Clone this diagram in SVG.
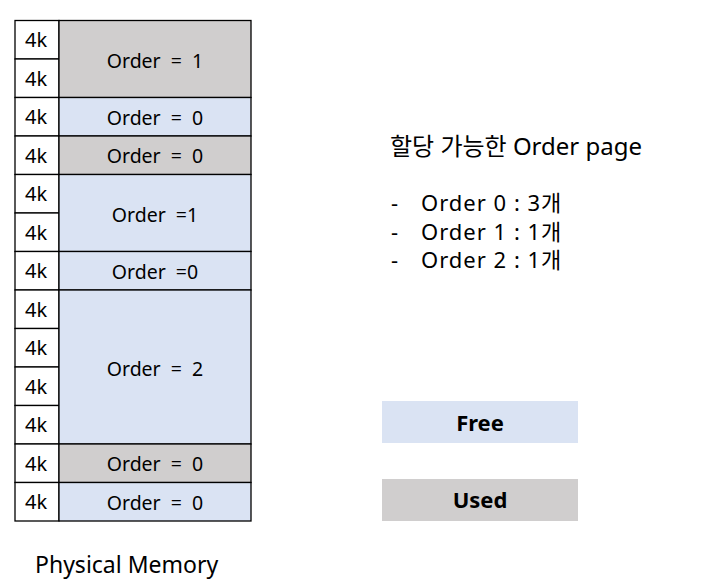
<svg xmlns="http://www.w3.org/2000/svg" width="704" height="581" viewBox="0 0 704 581">
<style>
text{font-family:"Noto Sans","Noto Sans CJK KR",sans-serif;fill:#000}
.c{stroke:#000;stroke-width:1.3}
.w{fill:#fff}
.g{fill:#D0CECE}
.b{fill:#DAE3F3}
.k{font-size:20px;text-anchor:middle}
.o{font-size:19.5px;text-anchor:middle}
.t{font-size:24px}
.li{font-size:22px;letter-spacing:1px}
.p{font-size:23px}
.l{font-size:22px;font-weight:bold;text-anchor:middle}
</style>
<rect width="704" height="581" fill="#fff"/>
<g id="kcol">
<rect class="c w" x="15" y="20.5" width="44" height="38.5"/>
<rect class="c w" x="15" y="59" width="44" height="38.5"/>
<rect class="c w" x="15" y="97.5" width="44" height="38.5"/>
<rect class="c w" x="15" y="136" width="44" height="38.5"/>
<rect class="c w" x="15" y="174.5" width="44" height="38.5"/>
<rect class="c w" x="15" y="213" width="44" height="38.5"/>
<rect class="c w" x="15" y="251.5" width="44" height="38.5"/>
<rect class="c w" x="15" y="290" width="44" height="38.5"/>
<rect class="c w" x="15" y="328.5" width="44" height="38.5"/>
<rect class="c w" x="15" y="367" width="44" height="38.5"/>
<rect class="c w" x="15" y="405.5" width="44" height="38.5"/>
<rect class="c w" x="15" y="444" width="44" height="38.5"/>
<rect class="c w" x="15" y="482.5" width="44" height="38.5"/>
<text class="k" x="36" y="47">4k</text>
<text class="k" x="36" y="85.5">4k</text>
<text class="k" x="36" y="124">4k</text>
<text class="k" x="36" y="162.5">4k</text>
<text class="k" x="36" y="201">4k</text>
<text class="k" x="36" y="239.5">4k</text>
<text class="k" x="36" y="278">4k</text>
<text class="k" x="36" y="316.5">4k</text>
<text class="k" x="36" y="355">4k</text>
<text class="k" x="36" y="393.5">4k</text>
<text class="k" x="36" y="432">4k</text>
<text class="k" x="36" y="470.5">4k</text>
<text class="k" x="36" y="509">4k</text>
</g>
<g id="block1"><rect class="c g" x="59" y="20.5" width="192" height="77"/><text class="o" x="155" y="67.5" xml:space="preserve">Order  =  1</text></g>
<g id="block2"><rect class="c b" x="59" y="97.5" width="192" height="38.5"/><text class="o" x="155" y="124.5" xml:space="preserve">Order  =  0</text></g>
<g id="block3"><rect class="c g" x="59" y="136" width="192" height="38.5"/><text class="o" x="155" y="163" xml:space="preserve">Order  =  0</text></g>
<g id="block4"><rect class="c b" x="59" y="174.5" width="192" height="77"/><text class="o" x="155" y="221.5" xml:space="preserve">Order  =1</text></g>
<g id="block5"><rect class="c b" x="59" y="251.5" width="192" height="38.5"/><text class="o" x="155" y="278.5" xml:space="preserve">Order  =0</text></g>
<g id="block6"><rect class="c b" x="59" y="290" width="192" height="154"/><text class="o" x="155" y="375.5" xml:space="preserve">Order  =  2</text></g>
<g id="block7"><rect class="c g" x="59" y="444" width="192" height="38.5"/><text class="o" x="155" y="471" xml:space="preserve">Order  =  0</text></g>
<g id="block8"><rect class="c b" x="59" y="482.5" width="192" height="38.5"/><text class="o" x="155" y="509.5" xml:space="preserve">Order  =  0</text></g>
<g id="connectors"></g>
<text class="p" x="35" y="573">Physical Memory</text>
<g id="info">
<text class="t" x="390" y="155">할당 가능한 Order page</text>
<text class="li" x="391" y="211">-<tspan x="421">Order 0 : 3개</tspan></text>
<text class="li" x="391" y="239.5">-<tspan x="421">Order 1 : 1개</tspan></text>
<text class="li" x="391" y="268">-<tspan x="421">Order 2 : 1개</tspan></text>
</g>
<g id="legend-free"><rect class="b" x="382" y="401" width="196" height="42"/><text class="l" x="480" y="431">Free</text></g>
<g id="legend-used"><rect class="g" x="382" y="479" width="196" height="42"/><text class="l" x="480" y="508">Used</text></g>
</svg>
